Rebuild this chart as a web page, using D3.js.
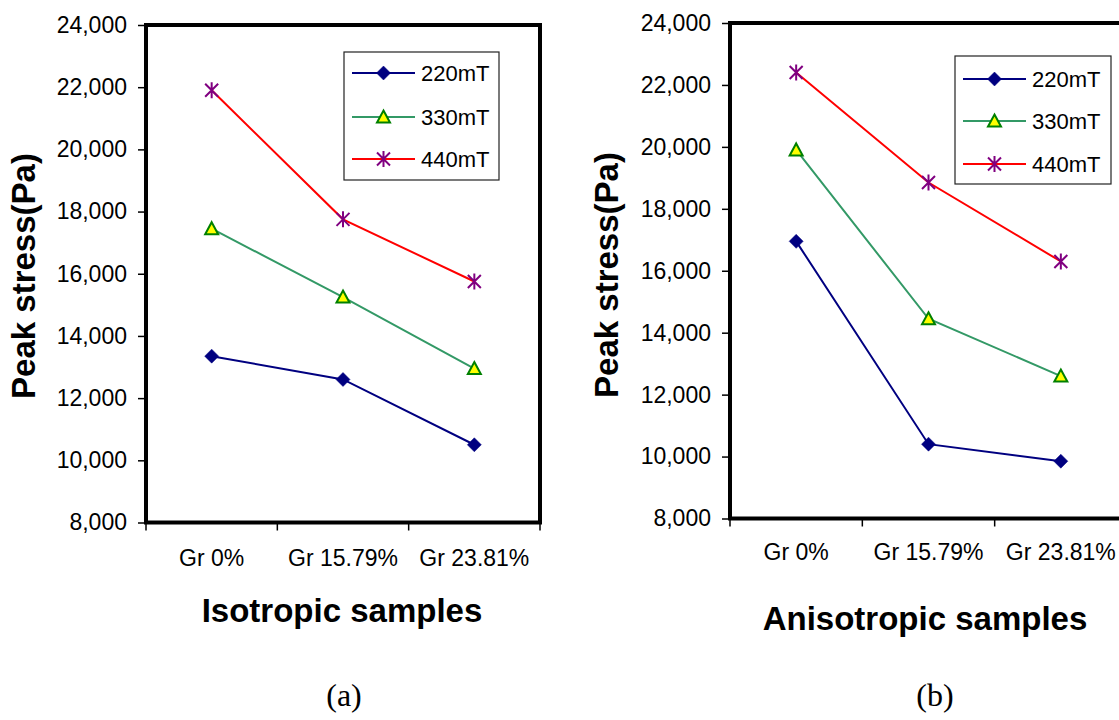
<!DOCTYPE html>
<html>
<head>
<meta charset="utf-8">
<script src="https://cdn.jsdelivr.net/npm/d3@7"></script>
<style>
  html, body { margin: 0; padding: 0; background: #fff; }
  svg { display: block; }
  text { font-family: "Liberation Sans", Arial, sans-serif; }
  text.serif { font-family: "Liberation Serif", "Times New Roman", serif; }
</style>
</head>
<body>
<svg id="chart" width="1119" height="720"></svg>
<script>
// ---------- data ----------
const categories = ["Gr 0%", "Gr 15.79%", "Gr 23.81%"];
const seriesNames = ["220mT", "330mT", "440mT"];
const yTicks = [8000, 10000, 12000, 14000, 16000, 18000, 20000, 22000, 24000];

const iso220 = [13350, 12600, 10500];
const iso330 = [17450, 15250, 12950];
const iso440 = [21900, 17750, 15750];

const aniso220 = [16950, 10400, 9850];
const aniso330 = [19900, 14450, 12600];
const aniso440 = [22400, 18850, 16300];

const panelTitles = ["Isotropic samples", "Anisotropic samples"];
const panelLetters = ["(a)", "(b)"];
const yTitle = "Peak stress(Pa)";

// ---------- styles ----------
const seriesStyle = [
  { line: "#000080", marker: "diamond" },
  { line: "#339966", marker: "triangle" },
  { line: "#FF0000", marker: "star" }
];

const svg = d3.select("#chart");

function drawMarker(g, type, x, y) {
  if (type === "diamond") {
    g.append("path").attr("d", "M0,-7L7,0L0,7L-7,0Z")
      .attr("transform", `translate(${x},${y})`)
      .attr("fill", "#000080").attr("stroke", "#000080").attr("stroke-width", 0.5);
  } else if (type === "triangle") {
    g.append("path").attr("d", "M0,-6.5L6.5,5.5L-6.5,5.5Z")
      .attr("transform", `translate(${x},${y})`)
      .attr("fill", "#FFFF00").attr("stroke", "#008000").attr("stroke-width", 2)
      .attr("stroke-linejoin", "miter");
  } else {
    g.append("path").attr("d", "M-6.5,-6.5L6.5,6.5M-6.5,6.5L6.5,-6.5M0,-8L0,8")
      .attr("transform", `translate(${x},${y})`)
      .attr("fill", "none").attr("stroke", "#800080").attr("stroke-width", 2);
  }
}

function drawPanel(cfg) {
  const g = svg.append("g");
  const x = d3.scaleBand().domain(categories).range([cfg.left, cfg.right]);
  const y = d3.scaleLinear().domain([8000, 24000]).range([cfg.bottom, cfg.top]);

  // frame
  g.append("rect")
    .attr("x", cfg.left).attr("y", cfg.top)
    .attr("width", cfg.right - cfg.left).attr("height", cfg.bottom - cfg.top)
    .attr("fill", "#fff").attr("stroke", "#000").attr("stroke-width", 4);

  // y axis
  const ya = g.append("g").attr("transform", `translate(${cfg.left},0)`)
    .call(d3.axisLeft(y).tickValues(yTicks).tickFormat(d3.format(",")).tickSize(8).tickPadding(11));
  ya.select(".domain").remove();
  ya.selectAll(".tick line").attr("stroke", "#000").attr("stroke-width", 1.5);
  ya.selectAll("text").attr("font-size", 23).attr("fill", "#000");

  // x axis labels (centered in bands)
  const xa = g.append("g").attr("transform", `translate(0,${cfg.bottom})`)
    .call(d3.axisBottom(x).tickSize(0).tickPadding(cfg.xPad));
  xa.select(".domain").remove();
  xa.selectAll("text").attr("font-size", 23).attr("fill", "#000");

  // x boundary ticks
  const bounds = categories.map(c => x(c)).concat([x(categories[categories.length - 1]) + x.step()]);
  g.selectAll(".xb").data(bounds).enter().append("line")
    .attr("x1", d => d).attr("x2", d => d)
    .attr("y1", cfg.bottom).attr("y2", cfg.bottom + 8)
    .attr("stroke", "#000").attr("stroke-width", 1.5);

  // series
  const cx = c => x(c) + x.bandwidth() / 2;
  cfg.series.forEach((vals, i) => {
    const line = d3.line().x((d, j) => cx(categories[j])).y(d => y(d));
    g.append("path").datum(vals).attr("d", line)
      .attr("fill", "none").attr("stroke", seriesStyle[i].line).attr("stroke-width", 2);
  });
  cfg.series.forEach((vals, i) => {
    vals.forEach((v, j) => drawMarker(g, seriesStyle[i].marker, cx(categories[j]), y(v)));
  });

  // legend
  const L = cfg.legend;
  g.append("rect").attr("x", L.x).attr("y", L.y).attr("width", L.w).attr("height", L.h)
    .attr("fill", "#fff").attr("stroke", "#222").attr("stroke-width", 1.2);
  seriesNames.forEach((name, i) => {
    const ry = L.rows[i];
    g.append("line").attr("x1", L.lx1).attr("x2", L.lx2).attr("y1", ry).attr("y2", ry)
      .attr("stroke", seriesStyle[i].line).attr("stroke-width", 2);
    drawMarker(g, seriesStyle[i].marker, (L.lx1 + L.lx2) / 2, ry);
    g.append("text").attr("x", L.tx).attr("y", ry).attr("dy", "0.35em")
      .attr("font-size", 22).attr("fill", "#000").text(name);
  });

  // y title
  g.append("text")
    .attr("transform", `translate(${cfg.yTitleX},${cfg.yTitleY}) rotate(-90)`)
    .attr("text-anchor", "middle").attr("font-size", 33).attr("font-weight", "bold")
    .attr("fill", "#000").text(yTitle);

  // x title
  g.append("text").attr("x", cfg.xTitleX).attr("y", cfg.xTitleY)
    .attr("text-anchor", "middle").attr("font-size", 33).attr("font-weight", "bold")
    .attr("fill", "#000").text(cfg.title);

  // letter
  g.append("text").attr("class", "serif").attr("x", cfg.letterX).attr("y", 706)
    .attr("text-anchor", "middle").attr("font-size", 32)
    .attr("fill", "#000").text(cfg.letter);
}

drawPanel({
  left: 146, right: 540, top: 25, bottom: 522.5, xPad: 27,
  series: [iso220, iso330, iso440],
  legend: { x: 344, y: 52, w: 155, h: 128, rows: [73, 117, 159], lx1: 352, lx2: 415, tx: 421 },
  yTitleX: 35, yTitleY: 276,
  xTitleX: 342, xTitleY: 622, title: panelTitles[0],
  letterX: 344, letter: panelLetters[0]
});

drawPanel({
  left: 730, right: 1127, top: 23, bottom: 518.5, xPad: 25,
  series: [aniso220, aniso330, aniso440],
  legend: { x: 955, y: 56, w: 156, h: 128, rows: [79, 121, 164], lx1: 963, lx2: 1026, tx: 1032 },
  yTitleX: 618, yTitleY: 275,
  xTitleX: 925, xTitleY: 630, title: panelTitles[1],
  letterX: 935, letter: panelLetters[1]
});
</script>
</body>
</html>
